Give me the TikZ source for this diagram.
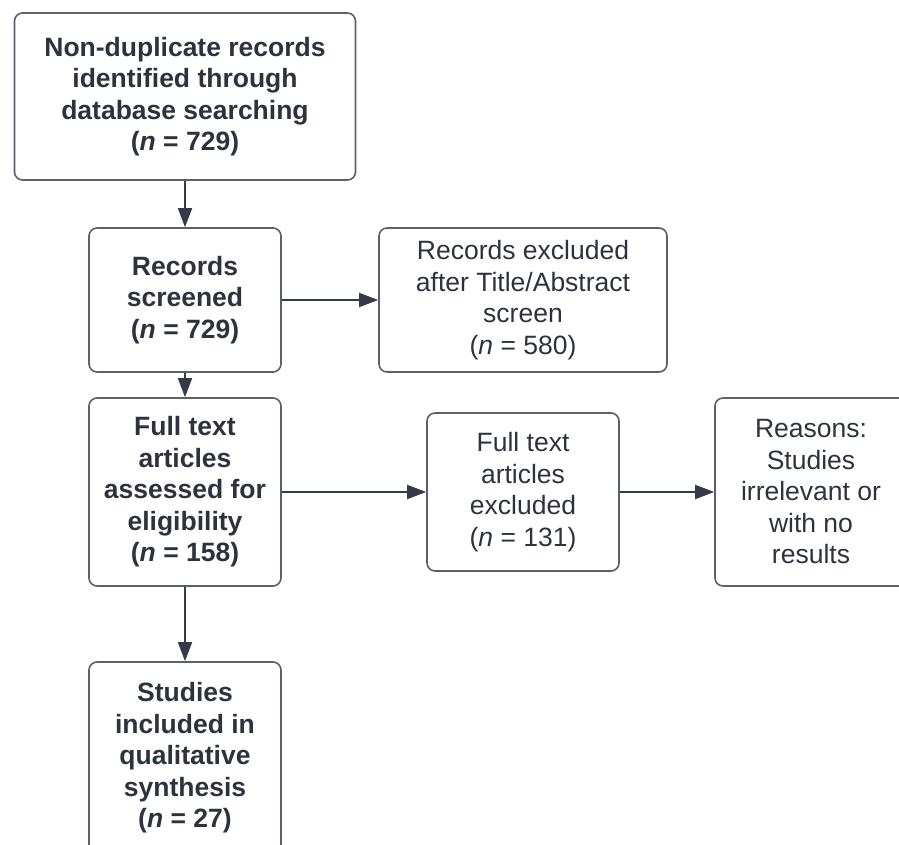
\documentclass[tikz,border=0pt]{standalone}
\usepackage{fontspec}
\setmainfont{Liberation Sans}
\usetikzlibrary{arrows.meta}
\definecolor{txt}{RGB}{45,51,62}
\definecolor{edgec}{RGB}{92,96,104}
\definecolor{arr}{RGB}{52,58,70}
\begin{document}
\begin{tikzpicture}[x=1pt,y=-1pt,
  box/.style={draw=edgec, line width=1.6pt, rounded corners=8pt, fill=white, text=txt,
    align=center, inner sep=0pt, font=\fontsize{26.5}{31.5}\selectfont},
  bbox/.style={box, font=\fontsize{26.5}{31.5}\selectfont\bfseries},
  flow/.style={draw=arr, line width=1.6pt, -{Triangle[length=19pt,width=14pt]}}]
\useasboundingbox (0,0) rectangle (899,845);
\clip (0,0) rectangle (899,845);
\node[bbox, minimum width=341pt, minimum height=167pt] (top) at (185,96.5)
  {Non-duplicate records\\identified through\\database searching\\(\textit{n} = 729)};
\node[bbox, minimum width=192pt, minimum height=144pt] (scr) at (185,300)
  {Records\\screened\\(\textit{n} = 729)};
\node[box, minimum width=288pt, minimum height=144pt] (exc) at (523,300)
  {Records excluded\\after Title/Abstract\\screen\\(\textit{n} = 580)};
\node[bbox, minimum width=192pt, minimum height=188pt] (ful) at (185,492)
  {Full text\\articles\\assessed for\\eligibility\\(\textit{n} = 158)};
\node[box, minimum width=192pt, minimum height=158pt] (fex) at (523,492)
  {Full text\\articles\\excluded\\(\textit{n} = 131)};
\node[box, minimum width=192pt, minimum height=188pt] (rea) at (811,492)
  {Reasons:\\Studies\\irrelevant or\\with no\\results};
\node[bbox, minimum width=192pt, minimum height=192pt] (stu) at (185,758)
  {Studies\\included in\\qualitative\\synthesis\\(\textit{n} = 27)};
\draw[flow] (top) -- (scr);
\draw[flow] (scr) -- (ful);
\draw[flow] (ful) -- (stu);
\draw[flow] (scr) -- (exc);
\draw[flow] (ful) -- (fex);
\draw[flow] (fex) -- (rea);
\end{tikzpicture}
\end{document}
